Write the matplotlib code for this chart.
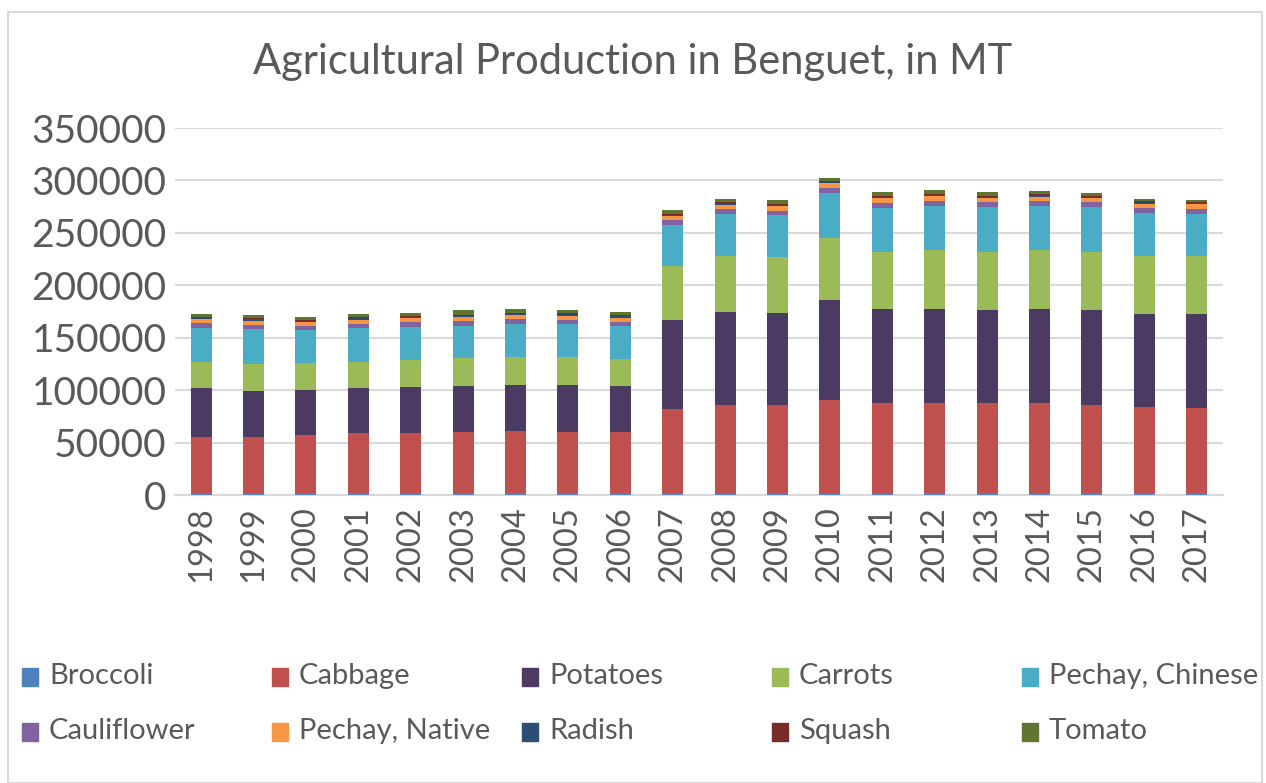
import matplotlib.pyplot as plt
from matplotlib.patches import Rectangle
import numpy as np

# data (MT)
years = [str(y) for y in range(1998, 2018)]
series = ["Broccoli", "Cabbage", "Potatoes", "Carrots", "Pechay, Chinese",
          "Cauliflower", "Pechay, Native", "Radish", "Squash", "Tomato"]
colors = ["#4F81BD", "#C0504D", "#4B3A62", "#9BBB59", "#4BACC6",
          "#8064A2", "#F79646", "#2C4D75", "#772C2A", "#5F7530"]

broccoli = [1500] * 9 + [1800] * 11
cabbage = [53500, 53500, 55500, 57600, 57900, 58300, 59500, 58900, 58600, 80200,
           84300, 84300, 88800, 85600, 85900, 85900, 85600, 84300, 82100, 80900]
potatoes = [47000, 43900, 42800, 43200, 43900, 44500, 44200, 44800, 43600, 84900,
            88400, 87500, 95400, 90000, 89700, 88800, 90000, 90400, 88700, 89900]
carrots = [25100, 26000, 25800, 24800, 25400, 26000, 26400, 26100, 26300, 51500,
           53400, 53100, 58800, 54600, 56000, 55200, 56000, 55500, 55300, 55300]
pechay_chinese = [32500, 33100, 31400, 32500, 31500, 31200, 31500, 31500, 30900, 39100,
                  40400, 40300, 43500, 42000, 42600, 42700, 42200, 42400, 40700, 40100]
cauliflower = [4100, 4400, 4200, 3800, 4500, 4700, 4700, 4400, 4400, 4500,
               4400, 4100, 4800, 4800, 4700, 4700, 4800, 4700, 5100, 5100]
pechay_native = [3800, 3800, 3800, 3800, 3800, 3600, 3900, 3800, 3800, 4100,
                 4200, 4200, 4200, 4200, 4200, 4100, 4100, 4100, 4100, 4200]
radish = [1200] * 20
squash = [1100] * 20
tomato = [3100, 3200, 2500, 2800, 2800, 4000, 3400, 3100, 3400, 3400,
          3100, 3400, 3000, 3400, 3700, 3500, 3400, 2800, 2200, 2000]

values = [broccoli, cabbage, potatoes, carrots, pechay_chinese,
          cauliflower, pechay_native, radish, squash, tomato]

plt.rcParams['font.family'] = ['Lato', 'DejaVu Sans']
txt = "#595959"

fig = plt.figure(figsize=(12.66, 7.83), dpi=100)
ax = fig.add_axes([0.1382, 0.3678, 0.8278, 0.4687])

x = np.arange(len(years))
bottom = np.zeros(len(years))
for name, vals, c in zip(series, values, colors):
    ax.bar(x, vals, 0.4, bottom=bottom, color=c, label=name, zorder=3)
    bottom += np.array(vals)

ax.set_xlim(-0.5, len(years) - 0.5)
ax.set_ylim(0, 350000)
ax.set_yticks(range(0, 350001, 50000))
ax.set_xticks(x)
ax.set_xticklabels(years, rotation=90, fontsize=23.5, color=txt)
ax.tick_params(axis='y', labelsize=28, colors=txt, length=0, pad=6)
ax.tick_params(axis='x', length=0, pad=8)
ax.grid(axis='y', color='#d9d9d9', linewidth=1.5, zorder=0)
for s in ['top', 'right', 'left']:
    ax.spines[s].set_visible(False)
ax.spines['bottom'].set_color('#d9d9d9')
ax.spines['bottom'].set_linewidth(1.5)

fig.text(0.5, 1 - 62 / 783, "Agricultural Production in Benguet, in MT",
         ha='center', va='center', fontsize=30, color=txt)

# legend laid out on an even grid like the original
W, H = 1266, 783
for i, (name, c) in enumerate(zip(series, colors)):
    col, row = i % 5, i // 5
    lx = 22 + 250 * col
    ly = 677 + 55 * row
    fig.patches.append(Rectangle((lx / W, 1 - (ly + 9) / H), 16 / W, 18 / H,
                                 transform=fig.transFigure, color=c))
    fig.text((lx + 27) / W, 1 - (ly - 1) / H, name, ha='left', va='center',
             fontsize=21, color=txt)

fig.patches.append(Rectangle((8 / W, 0.0), 1254 / W, 1 - 12 / H, transform=fig.transFigure,
                             fill=False, edgecolor='#d9d9d9', linewidth=1.5))

fig.savefig("out.png", dpi=100)
